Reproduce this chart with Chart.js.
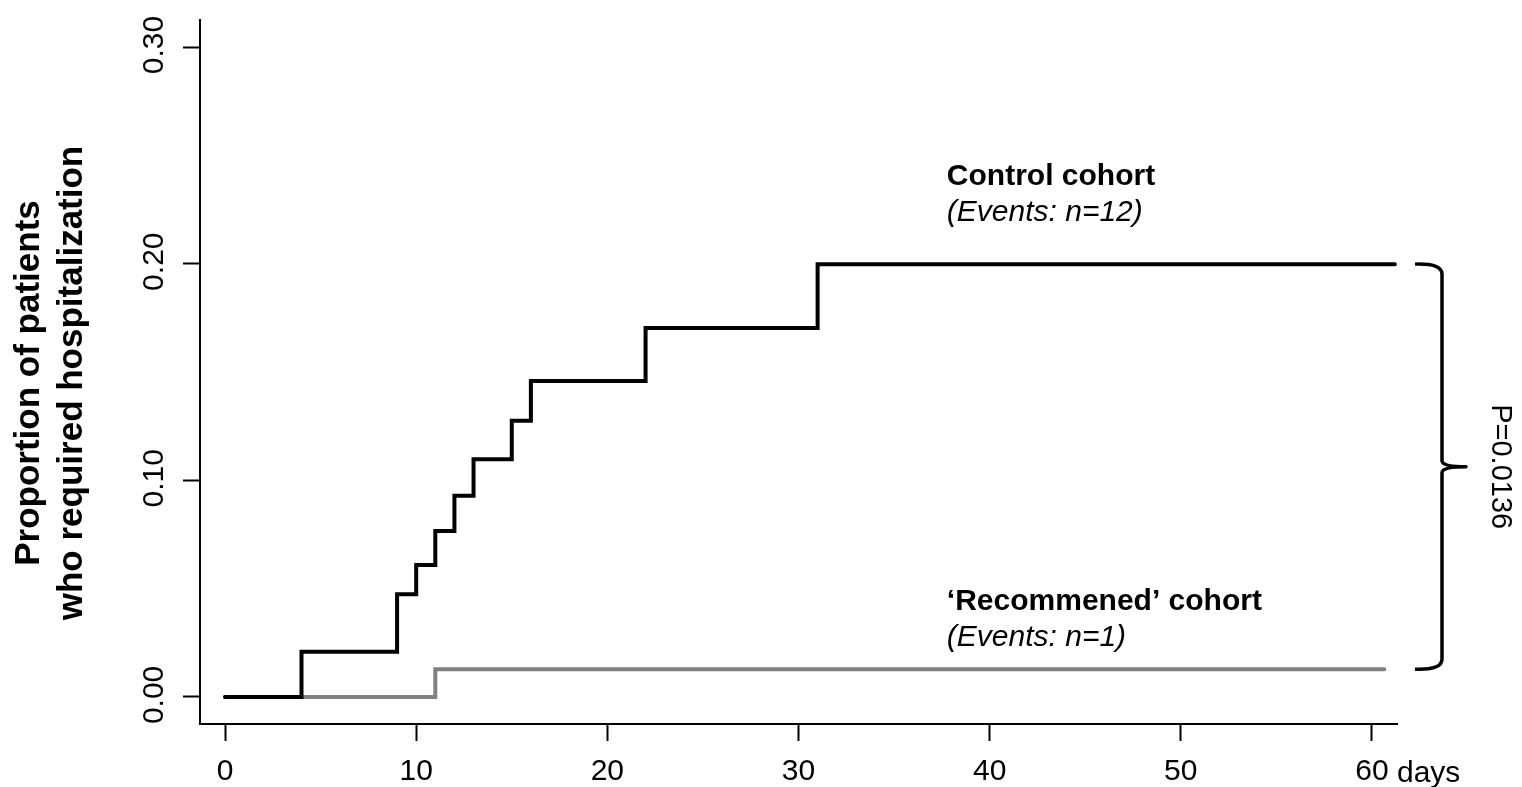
<!DOCTYPE html>
<html>
<head>
<meta charset="utf-8">
<script src="https://cdn.jsdelivr.net/npm/chart.js@4.4.1/dist/chart.umd.min.js"></script>
<style>
  html, body { margin: 0; padding: 0; background: #fff; }
  #wrap { width: 1522px; height: 787px; }
</style>
</head>
<body>
<div id="wrap"><canvas id="chart" width="1522" height="787"></canvas></div>
<script>
'use strict';

// control cohort (cumulative proportion hospitalized)
const ctrlDays = [0, 4, 9, 10, 11, 12, 13, 15, 16, 22, 31, 61.2];
const ctrlProp = [0, 0.0209, 0.0474, 0.0609, 0.0766, 0.0929, 0.1097, 0.1275, 0.1458, 0.1703, 0.1998, 0.1998];

// 'recommened' cohort
const recDays = [0, 11, 60.65];
const recProp = [0, 0.0128, 0.0128];

const xTicks = [0, 10, 20, 30, 40, 50, 60];
const yTicks = [0, 0.1, 0.2, 0.3];
const yTickLabels = ['0.00', '0.10', '0.20', '0.30'];

const FONT = '"Liberation Sans", Arial, Helvetica, sans-serif';

function toPoints(xs, ys){
    return xs.map((x, i) => ({x: x, y: ys[i]}));
}

const textPlugin = {
    id: 'texts',
    afterDraw(chart){
        const c = chart.ctx;
        const xs = chart.scales.x;
        const ys = chart.scales.y;
        c.save();
        c.fillStyle = '#000';
        c.strokeStyle = '#000';

        // y tick labels, rotated
        c.font = '30px ' + FONT;
        c.textAlign = 'center';
        c.textBaseline = 'alphabetic';
        yTicks.forEach((v, i) => {
            c.save();
            c.translate(163, ys.getPixelForValue(v) - 2);
            c.rotate(-Math.PI / 2);
            c.fillText(yTickLabels[i], 0, 0);
            c.restore();
        });

        // y axis title
        c.font = 'bold 35px ' + FONT;
        c.save();
        c.translate(39, 383);
        c.rotate(-Math.PI / 2);
        c.fillText('Proportion of patients', 0, 0);
        c.restore();
        c.save();
        c.translate(82, 383);
        c.rotate(-Math.PI / 2);
        c.fillText('who required hospitalization', 0, 0);
        c.restore();

        // "days" after the 60 tick
        c.font = '30px ' + FONT;
        c.textAlign = 'left';
        const x60 = xs.getPixelForValue(60);
        const w60 = c.measureText('60').width;
        c.fillText('days', x60 + w60 / 2 + c.measureText(' ').width, 782);

        // cohort labels
        const lx = xs.getPixelForValue(37.76);
        c.font = 'bold 30px ' + FONT;
        c.fillText('Control cohort', lx, 185);
        c.fillText('\u2018Recommened\u2019 cohort', lx, 610);
        c.font = 'italic 30px ' + FONT;
        c.fillText('(Events: n=12)', lx, 221);
        c.fillText('(Events: n=1)', lx, 646);

        // brace between the two end values
        const yTop = ys.getPixelForValue(ctrlProp[ctrlProp.length - 1]);
        const yBot = ys.getPixelForValue(recProp[recProp.length - 1]);
        const yMid = (yTop + yBot) / 2;
        const bx0 = 1415, bx1 = 1442, bx2 = 1466;
        c.lineWidth = 3.5;
        c.lineJoin = 'round';
        c.beginPath();
        c.moveTo(bx0, yTop);
        c.quadraticCurveTo(bx1, yTop - 1, bx1, yTop + 10);
        c.lineTo(bx1, yMid - 6);
        c.quadraticCurveTo(bx1, yMid, bx2, yMid);
        c.quadraticCurveTo(bx1, yMid, bx1, yMid + 6);
        c.lineTo(bx1, yBot - 10);
        c.quadraticCurveTo(bx1, yBot + 1, bx0, yBot);
        c.stroke();

        // p value
        c.font = '29px ' + FONT;
        c.textAlign = 'center';
        c.save();
        c.translate(1492, yMid);
        c.rotate(Math.PI / 2);
        c.fillText('P=0.0136', 0, 0);
        c.restore();

        c.restore();
    }
};

const ctx = document.getElementById('chart');

const wykres = new Chart(ctx, {
    type: 'line',
    data: {
        datasets: [{
            label: 'Control cohort',
            data: toPoints(ctrlDays, ctrlProp),
            borderColor: '#000',
            borderWidth: 4,
            stepped: true,
            pointRadius: 0,
            fill: false,
            borderCapStyle: 'round',
            order: 0,
        }, {
            label: 'Recommened cohort',
            data: toPoints(recDays, recProp),
            borderColor: '#808080',
            borderWidth: 4,
            stepped: true,
            pointRadius: 0,
            fill: false,
            borderCapStyle: 'round',
            order: 1,
        }]
    },
    options: {
        responsive: false,
        animation: false,
        layout: { padding: { left: 0, top: 20, right: 125, bottom: 0 } },
        plugins: {
            legend: { display: false },
            tooltip: { enabled: false },
        },
        scales: {
            x: {
                type: 'linear',
                min: -1.31,
                max: 61.31,
                afterBuildTicks: s => { s.ticks = xTicks.map(v => ({value: v})); },
                afterFit: s => { s.height = 63; },
                border: { display: true, color: '#000', width: 2 },
                grid: { drawOnChartArea: false, drawTicks: true, tickLength: 17, tickColor: '#000', tickWidth: 2 },
                ticks: {
                    color: '#000',
                    font: { family: FONT, size: 30 },
                    padding: 13,
                    maxRotation: 0,
                    callback: v => String(v),
                },
            },
            y: {
                type: 'linear',
                min: -0.0125,
                max: 0.3125,
                afterBuildTicks: s => { s.ticks = yTicks.map(v => ({value: v})); },
                afterFit: s => { s.width = 200; },
                border: { display: true, color: '#000', width: 2 },
                grid: { drawOnChartArea: false, drawTicks: true, tickLength: 17, tickColor: '#000', tickWidth: 2 },
                ticks: { display: false },
            }
        }
    },
    plugins: [textPlugin]
});
</script>
</body>
</html>
